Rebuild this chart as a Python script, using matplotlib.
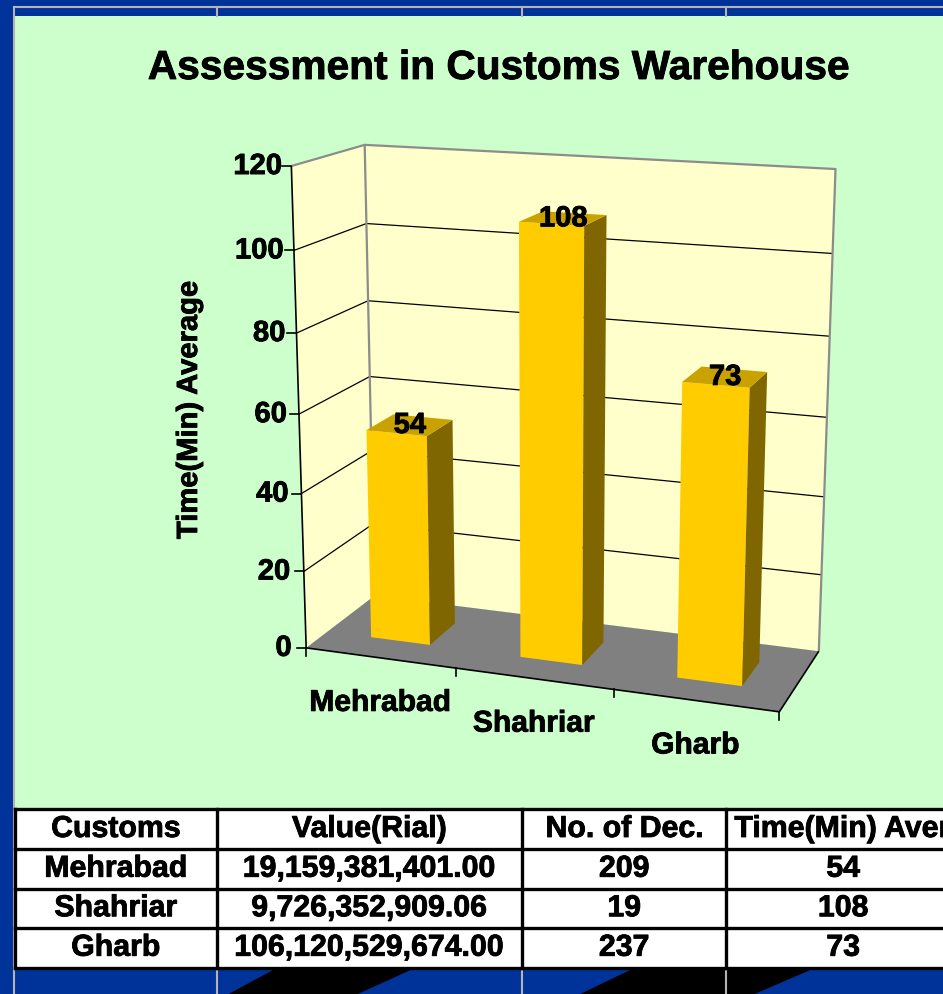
import numpy as np
import matplotlib
matplotlib.use("Agg")
import matplotlib.pyplot as plt
from matplotlib.patches import Polygon, Rectangle
import matplotlib.patheffects as pe

plt.rcParams['font.family'] = ['Liberation Sans', 'DejaVu Sans']
plt.rcParams['font.weight'] = 'bold'

# ---------------- data ----------------
categories = ['Mehrabad', 'Shahriar', 'Gharb']
time_avg = [54, 108, 73]
value_rial = ['19,159,381,401.00', '9,726,352,909.06', '106,120,529,674.00']
no_of_dec = ['209', '19', '237']
table_header = ['Customs', 'Value(Rial)', 'No. of Dec.', 'Time(Min) Average']
y_ticks = [0, 20, 40, 60, 80, 100, 120]
title = 'Assessment in Customs Warehouse'
y_label = 'Time(Min) Average'

# ---------------- colours ----------------
BLUE = '#003399'
GREEN = '#CCFFCC'
WALL = '#FFFFCC'
FLOOR = '#808080'
EDGE = '#8C8C8C'
BAR_FRONT = '#FFCC00'
BAR_SIDE = '#806600'
BAR_TOP = '#C9A200'
LINE_GREY = '#B4B4B4'

HEAVY = [pe.withStroke(linewidth=0.6, foreground='black')]

W, H = 943, 994
fig = plt.figure(figsize=(W / 100, H / 100), dpi=100)
fig.patch.set_facecolor(BLUE)
ax = fig.add_axes([0, 0, 1, 1])
ax.set_xlim(0, W)
ax.set_ylim(H, 0)
ax.axis('off')


def label(x, y, s, size, **kw):
    return ax.text(x, y, s, fontsize=size, fontweight='bold', path_effects=HEAVY, **kw)


# ---------------- slide background ----------------
ax.add_patch(Rectangle((15, 16), W - 15, 792, facecolor=GREEN, edgecolor='none', zorder=0))
ax.plot([14, W], [7, 7], color=LINE_GREY, lw=1.5, zorder=1)
ax.plot([14, 14], [7, H], color=LINE_GREY, lw=1.5, zorder=1)
col_lines = [216.5, 522, 726.4]
for xc in col_lines:
    ax.plot([xc, xc], [7, 16], color=LINE_GREY, lw=1.5, zorder=1)

# ---------------- perspective camera (fit to frame geometry) ----------------
# 3D frame coordinates: u along categories (0..3), v value (0..120), w depth (0 front .. 1 back)
frame_3d = [(0, 120, 0), (0, 100, 0), (0, 80, 0), (0, 60, 0), (0, 40, 0), (0, 20, 0), (0, 0, 0),
            (0, 120, 1), (0, 100, 1), (0, 80, 1), (0, 60, 1), (0, 0, 1),
            (3, 120, 1), (3, 100, 1), (3, 80, 1), (3, 0, 1),
            (1, 0, 0), (2, 0, 0), (3, 0, 0)]
frame_px = [(291, 166), (293.5, 250), (296.7, 332.7), (299, 414), (302, 493), (304.5, 571), (306.7, 648),
            (365, 144), (366.5, 224.3), (368, 301.7), (370, 377.3), (373, 595),
            (835, 169), (832.7, 253.3), (830, 336.7), (820, 650),
            (455.7, 669.3), (614, 690), (778, 712)]


def _norm(pts):
    pts = np.asarray(pts, float)
    c = pts.mean(0)
    s = np.sqrt(pts.shape[1]) / np.mean(np.linalg.norm(pts - c, axis=1))
    T = np.eye(pts.shape[1] + 1)
    T[:-1, :-1] *= s
    T[:-1, -1] = -s * c
    return T


P3 = np.array([(u, v / 40.0, w) for u, v, w in frame_3d])
P2 = np.array(frame_px, float)
T3, T2 = _norm(P3), _norm(P2)
P3n = (T3 @ np.c_[P3, np.ones(len(P3))].T).T
P2n = (T2 @ np.c_[P2, np.ones(len(P2))].T).T
A = []
for (X, Y, Z, _), (x, y, _) in zip(P3n, P2n):
    A.append([X, Y, Z, 1, 0, 0, 0, 0, -x * X, -x * Y, -x * Z, -x])
    A.append([0, 0, 0, 0, X, Y, Z, 1, -y * X, -y * Y, -y * Z, -y])
_, _, Vt = np.linalg.svd(np.array(A))
CAM = np.linalg.inv(T2) @ Vt[-1].reshape(3, 4) @ T3


def proj(u, v, w):
    p = CAM @ np.array([u, v / 40.0, w, 1.0])
    return p[0] / p[2], p[1] / p[2]


def face(pts, fc, ec='none', lw=0, z=2):
    ax.add_patch(Polygon([proj(*p) for p in pts], closed=True, facecolor=fc,
                         edgecolor=ec, lw=lw, zorder=z, joinstyle='miter'))


def line3(pts, color, lw, z=3):
    xy = np.array([proj(*p) for p in pts])
    ax.plot(xy[:, 0], xy[:, 1], color=color, lw=lw, zorder=z, solid_capstyle='butt')


NC = len(categories)
VMAX = y_ticks[-1]

# walls and floor
face([(0, 0, 1), (NC, 0, 1), (NC, VMAX, 1), (0, VMAX, 1)], WALL)
face([(0, 0, 0), (0, 0, 1), (0, VMAX, 1), (0, VMAX, 0)], WALL)
face([(0, 0, 0), (NC, 0, 0), (NC, 0, 1), (0, 0, 1)], FLOOR)

# gridlines
for v in y_ticks[1:-1]:
    line3([(0, v, 0), (0, v, 1), (NC, v, 1)], 'black', 0.9)
# wall edges
line3([(0, VMAX, 0), (0, VMAX, 1), (NC, VMAX, 1), (NC, 0, 1)], EDGE, 1.6)
line3([(0, VMAX, 1), (0, 0, 1)], EDGE, 1.6)
# floor edges / axes
line3([(0, 0, 0), (NC, 0, 0), (NC, 0, 1)], 'black', 1.2, z=4)
line3([(0, 0, 0), (0, VMAX, 0)], 'black', 1.2, z=4)

# y ticks and labels
for v in y_ticks:
    x, y = proj(0, v, 0)
    ax.plot([x - 9, x], [y, y], color='black', lw=1.2, zorder=4)
    label(x - (14.5 - 5.0 * v / VMAX), y, str(v), 21, ha='right', va='center', zorder=5)

# category ticks and labels
for i in range(NC + 1):
    x, y = proj(i, 0, 0)
    ax.plot([x, x], [y, y + 8], color='black', lw=1.2, zorder=4)
for i, c in enumerate(categories):
    x, y = proj(i + 0.5, 0, 0)
    label(x, y + 45, c, 21.6, ha='center', va='center', zorder=5)

# bars
u_pad, w0, w1 = 0.3, 0.3, 0.7
for i, val in enumerate(time_avg):
    ua, ub = i + u_pad, i + 1 - u_pad
    face([(ua, 0, w0), (ub, 0, w0), (ub, val, w0), (ua, val, w0)], BAR_FRONT, z=6)
    face([(ub, 0, w0), (ub, 0, w1), (ub, val, w1), (ub, val, w0)], BAR_SIDE, z=6)
    face([(ua, val, w0), (ub, val, w0), (ub, val, w1), (ua, val, w1)], BAR_TOP, z=6)
    x, y = proj(i + 0.5, val, 0.5)
    label(x, y, str(val), 21, ha='center', va='center', zorder=7)

# title and axis label
label(499, 68, title, 29.3, ha='center', va='center', zorder=5)
label(189, 410, y_label, 21, ha='center', va='center', rotation=90, zorder=5)

# ---------------- table ----------------
row_edges = [809, 849, 888.5, 928, 967.5]
col_edges = [15, 216.5, 522, 726.4, 960]
ax.add_patch(Rectangle((col_edges[0], row_edges[0]), col_edges[-1] - col_edges[0],
                       row_edges[-1] - row_edges[0], facecolor='white', edgecolor='none', zorder=8))
for yv in row_edges:
    ax.plot([col_edges[0], col_edges[-1]], [yv, yv], color='black', lw=2.4, zorder=9)
for xv in col_edges:
    ax.plot([xv, xv], [row_edges[0], row_edges[-1]], color='black', lw=2.4, zorder=9)

rows = [table_header] + [[c, vr, nd, str(t)] for c, vr, nd, t in
                         zip(categories, value_rial, no_of_dec, time_avg)]
for r, row in enumerate(rows):
    yc = (row_edges[r] + row_edges[r + 1]) / 2
    for cidx, txt in enumerate(row):
        if r == 0 and cidx == 3:
            label(col_edges[3] + 8, yc, txt, 21.8, ha='left', va='center', zorder=10)
        else:
            xc = (col_edges[cidx] + col_edges[cidx + 1]) / 2
            label(xc, yc, txt, 21.8, ha='center', va='center', zorder=10)

# ---------------- bottom band decoration ----------------
ax.add_patch(Polygon([(228.5, 994), (276.6, 968), (415, 968), (357.8, 994)], closed=True,
                     facecolor='black', edgecolor='none', zorder=1))
ax.add_patch(Polygon([(580.3, 994), (634.4, 968), (814.8, 968), (754.7, 994)], closed=True,
                     facecolor='black', edgecolor='none', zorder=1))
for xc in col_lines:
    ax.plot([xc, xc], [968, H], color=LINE_GREY, lw=1.5, zorder=2)

fig.savefig('out.png', dpi=100, facecolor=fig.get_facecolor())
